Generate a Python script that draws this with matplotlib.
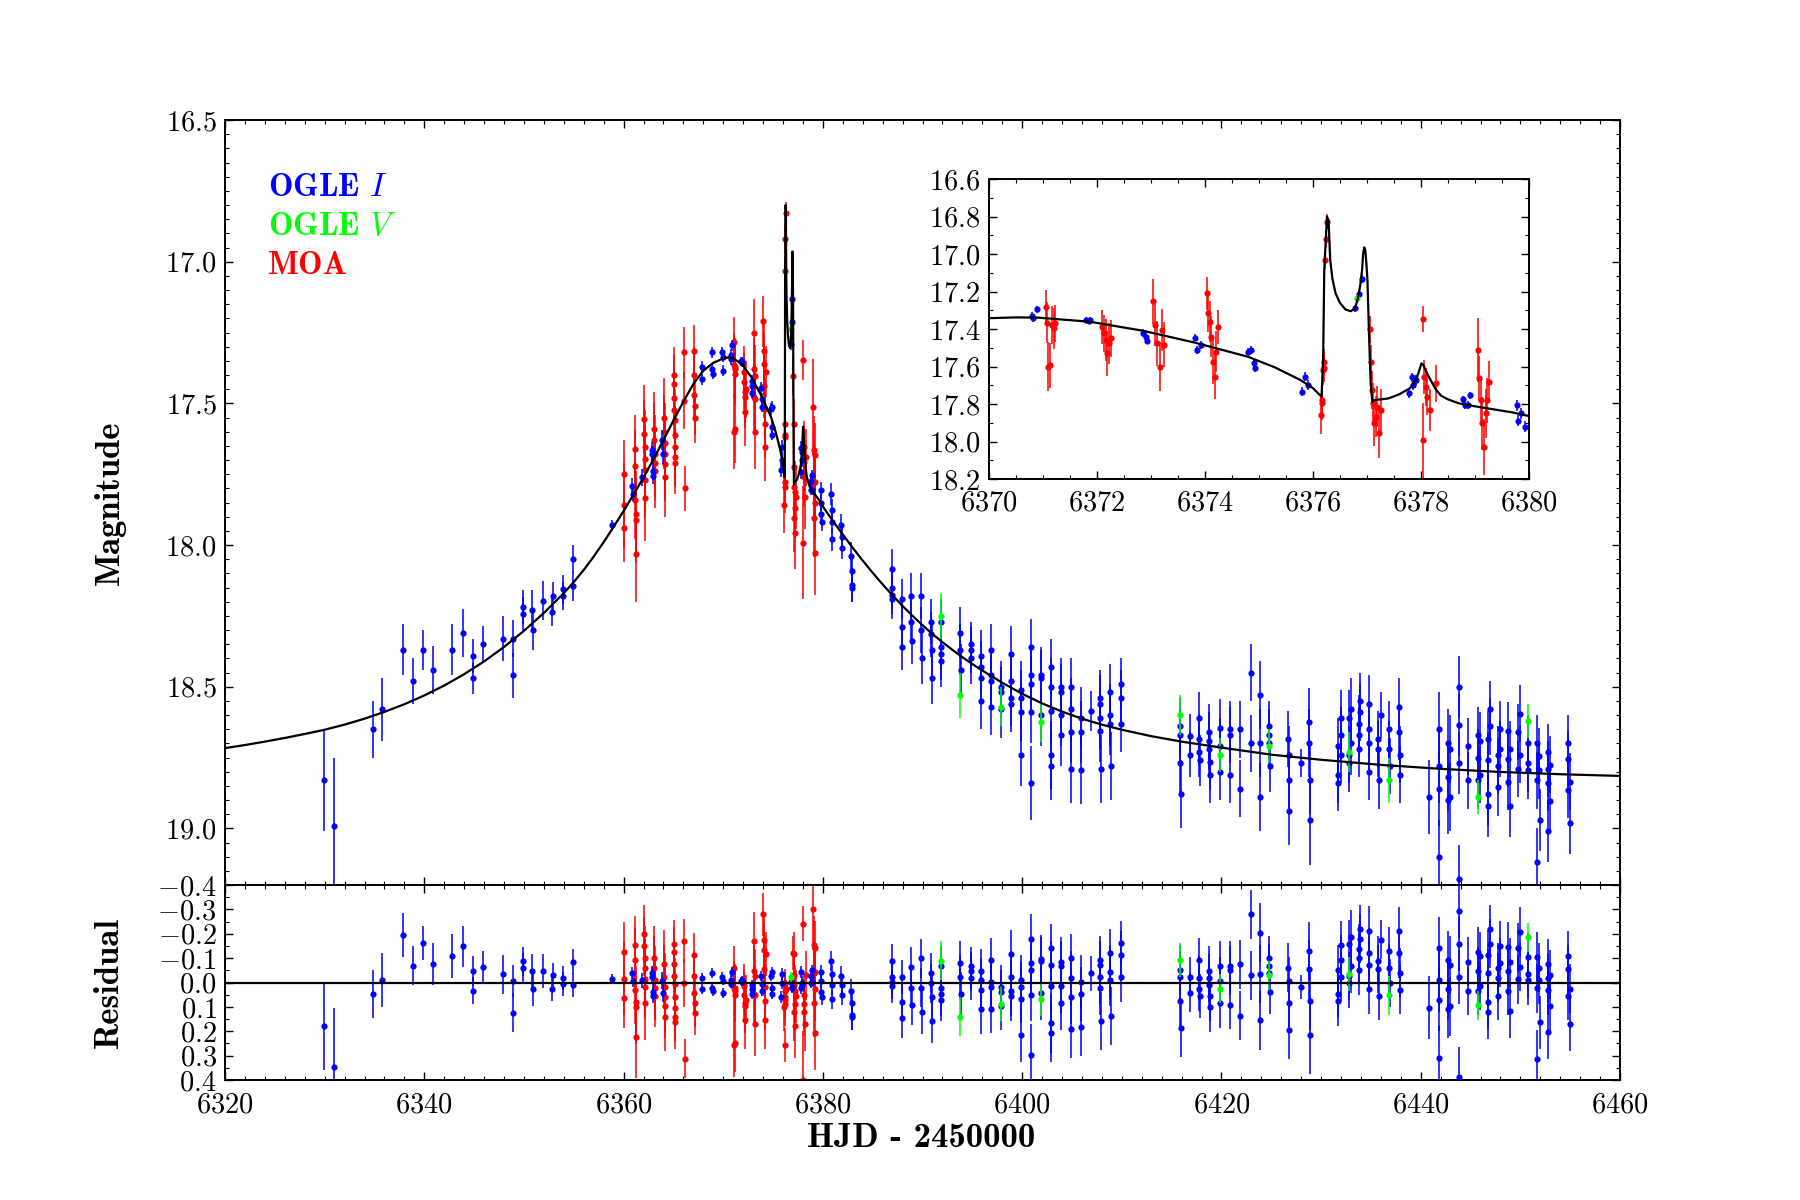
import numpy as np
import matplotlib
matplotlib.use('Agg')
import matplotlib.pyplot as plt
from matplotlib.ticker import MultipleLocator

# ---------------- data ----------------
ogle_i_t = [
    6329.90, 6330.90, 6334.86, 6335.80, 6337.90, 6338.85, 6339.85, 6340.86, 6342.83, 6343.87,
    6344.84, 6344.86, 6345.85, 6347.85, 6348.86, 6348.88, 6349.86, 6349.88, 6350.86, 6350.88,
    6351.87, 6352.85, 6352.87, 6353.88, 6353.90, 6354.88, 6354.90, 6358.84, 6360.88, 6360.90,
    6361.88, 6362.88, 6362.90, 6362.92, 6362.94, 6363.89, 6363.91, 6367.90, 6367.92, 6368.90,
    6368.92, 6368.94, 6369.91, 6369.93, 6369.95, 6370.80, 6370.82, 6370.89, 6371.80, 6371.85,
    6371.88, 6372.85, 6372.90, 6372.93, 6373.81, 6373.86, 6373.92, 6374.80, 6374.85, 6374.90,
    6374.93, 6375.79, 6375.86, 6375.90, 6376.77, 6376.86, 6376.90, 6377.77, 6377.83, 6377.86,
    6377.90, 6378.77, 6378.82, 6378.87, 6378.91, 6379.77, 6379.80, 6379.86, 6379.93, 6380.86,
    6380.88, 6380.90, 6380.92, 6381.87, 6381.89, 6381.91, 6382.87, 6382.89, 6382.91, 6382.93,
    6386.89, 6386.91, 6386.93, 6386.95, 6387.90, 6387.92, 6387.94, 6388.87, 6388.89, 6388.91,
    6389.87, 6389.89, 6389.91, 6390.88, 6390.90, 6390.92, 6390.94, 6391.84, 6391.86, 6391.88,
    6391.90, 6393.78, 6393.80, 6393.82, 6394.82, 6394.84, 6394.86, 6395.83, 6395.85, 6395.87,
    6395.89, 6396.83, 6396.85, 6396.87, 6396.89, 6397.84, 6397.86, 6397.88, 6398.84, 6398.86,
    6398.88, 6398.90, 6399.84, 6399.86, 6399.88, 6399.90, 6400.85, 6400.87, 6400.89, 6400.91,
    6400.93, 6401.85, 6401.87, 6401.89, 6402.86, 6402.88, 6402.90, 6402.92, 6402.94, 6403.86,
    6403.88, 6403.90, 6403.92, 6404.87, 6404.89, 6404.91, 6404.93, 6405.87, 6405.89, 6405.91,
    6406.87, 6407.80, 6407.82, 6407.84, 6407.86, 6407.88, 6408.81, 6408.83, 6408.85, 6408.87,
    6409.89, 6409.91, 6409.93, 6415.84, 6415.86, 6415.88, 6415.90, 6416.85, 6416.87, 6417.75,
    6417.77, 6417.79, 6417.81, 6418.76, 6418.78, 6418.80, 6418.82, 6418.84, 6419.85, 6419.87,
    6419.89, 6420.85, 6420.87, 6420.89, 6421.87, 6421.89, 6422.94, 6422.96, 6423.88, 6423.90,
    6423.92, 6424.78, 6424.80, 6424.82, 6424.84, 6426.73, 6426.75, 6426.77, 6426.79, 6427.96,
    6428.80, 6428.82, 6428.84, 6428.86, 6431.70, 6431.72, 6431.74, 6431.98, 6432.00, 6432.02,
    6432.80, 6432.82, 6432.84, 6433.00, 6433.02, 6433.76, 6433.78, 6433.80, 6433.92, 6433.94,
    6434.76, 6434.78, 6434.80, 6434.82, 6435.73, 6435.75, 6435.77, 6436.00, 6436.83, 6436.85,
    6436.87, 6437.84, 6437.86, 6437.88, 6437.90, 6440.85, 6441.79, 6441.81, 6441.83, 6441.85,
    6442.70, 6442.72, 6442.74, 6442.96, 6442.98, 6443.80, 6443.82, 6443.84, 6443.86, 6444.77,
    6444.79, 6445.71, 6445.73, 6445.75, 6445.97, 6445.99, 6446.71, 6446.73, 6446.75, 6446.77,
    6446.97, 6446.99, 6447.71, 6447.73, 6447.75, 6447.97, 6447.99, 6448.72, 6448.74, 6448.76,
    6448.97, 6448.99, 6449.73, 6449.75, 6449.96, 6449.98, 6450.73, 6450.75, 6450.77, 6451.66,
    6451.68, 6451.70, 6451.90, 6451.92, 6451.94, 6452.74, 6452.76, 6452.78, 6452.80, 6452.97,
    6452.99, 6454.75, 6454.77, 6454.79, 6454.98, 6455.00]
ogle_i_mag = [
    18.83, 18.99, 18.65, 18.58, 18.37, 18.48, 18.37, 18.44, 18.37, 18.31,
    18.39, 18.47, 18.35, 18.33, 18.33, 18.46, 18.22, 18.245, 18.23, 18.30,
    18.196, 18.236, 18.18, 18.157, 18.18, 18.05, 18.146, 17.93, 17.79, 17.82,
    17.76, 17.666, 17.68, 17.74, 17.755, 17.63, 17.68, 17.37, 17.415, 17.32,
    17.38, 17.395, 17.32, 17.335, 17.385, 17.329, 17.343, 17.295, 17.352, 17.358,
    17.350, 17.42, 17.44, 17.462, 17.446, 17.512, 17.485, 17.52, 17.512, 17.583,
    17.61, 17.734, 17.654, 17.699, 17.29, 17.213, 17.133, 17.743, 17.658, 17.699,
    17.672, 17.775, 17.805, 17.805, 17.754, 17.807, 17.889, 17.85, 17.92, 17.82,
    17.876, 17.92, 17.98, 17.93, 17.97, 18.01, 18.04, 18.09, 18.14, 18.15,
    18.085, 18.15, 18.175, 18.19, 18.19, 18.29, 18.36, 18.18, 18.27, 18.34,
    18.18, 18.30, 18.40, 18.27, 18.315, 18.37, 18.47, 18.27, 18.36, 18.385,
    18.41, 18.31, 18.37, 18.44, 18.35, 18.37, 18.40, 18.39, 18.43, 18.47,
    18.55, 18.37, 18.46, 18.48, 18.57, 18.50, 18.52, 18.58, 18.385, 18.48,
    18.54, 18.56, 18.51, 18.54, 18.59, 18.74, 18.36, 18.46, 18.49, 18.59,
    18.84, 18.46, 18.47, 18.60, 18.43, 18.50, 18.585, 18.74, 18.78, 18.50,
    18.52, 18.60, 18.67, 18.50, 18.58, 18.66, 18.79, 18.61, 18.66, 18.795,
    18.585, 18.54, 18.56, 18.61, 18.655, 18.79, 18.52, 18.60, 18.63, 18.78,
    18.49, 18.54, 18.63, 18.64, 18.67, 18.77, 18.88, 18.675, 18.74, 18.61,
    18.685, 18.73, 18.76, 18.66, 18.69, 18.72, 18.765, 18.81, 18.645, 18.71,
    18.80, 18.65, 18.67, 18.81, 18.65, 18.86, 18.45, 18.70, 18.53, 18.70,
    18.89, 18.64, 18.67, 18.70, 18.78, 18.685, 18.74, 18.83, 18.94, 18.77,
    18.625, 18.70, 18.83, 18.97, 18.71, 18.81, 18.84, 18.61, 18.67, 18.74,
    18.61, 18.74, 18.77, 18.58, 18.70, 18.63, 18.67, 18.72, 18.55, 18.59,
    18.56, 18.65, 18.70, 18.80, 18.685, 18.72, 18.83, 18.60, 18.65, 18.72,
    18.78, 18.57, 18.66, 18.74, 18.81, 18.89, 18.65, 18.78, 18.86, 19.10,
    18.70, 18.82, 18.90, 18.72, 18.89, 18.50, 18.635, 18.77, 19.18, 18.71,
    18.83, 18.67, 18.75, 18.83, 18.69, 18.81, 18.685, 18.76, 18.88, 18.92,
    18.58, 18.64, 18.74, 18.78, 18.855, 18.65, 18.72, 18.655, 18.755, 18.835,
    18.72, 18.92, 18.66, 18.79, 18.595, 18.74, 18.70, 18.77, 18.795, 18.70,
    18.83, 19.12, 18.745, 18.795, 18.97, 18.73, 18.79, 18.84, 19.01, 18.775,
    18.905, 18.70, 18.755, 18.865, 18.835, 18.98]
ogle_i_err = [
    0.18, 0.24, 0.10, 0.11, 0.09, 0.08, 0.07, 0.085, 0.09, 0.085,
    0.06, 0.055, 0.065, 0.08, 0.065, 0.08, 0.06, 0.06, 0.07, 0.07,
    0.07, 0.05, 0.05, 0.05, 0.05, 0.05, 0.05, 0.02, 0.025, 0.025,
    0.03, 0.03, 0.03, 0.03, 0.03, 0.035, 0.035, 0.02, 0.02, 0.02,
    0.02, 0.02, 0.02, 0.02, 0.02, 0.02, 0.02, 0.02, 0.015, 0.015,
    0.015, 0.02, 0.02, 0.02, 0.02, 0.02, 0.02, 0.02, 0.02, 0.02,
    0.02, 0.025, 0.025, 0.025, 0.02, 0.02, 0.02, 0.025, 0.025, 0.025,
    0.025, 0.02, 0.02, 0.02, 0.02, 0.03, 0.03, 0.03, 0.03, 0.04,
    0.04, 0.04, 0.04, 0.04, 0.04, 0.04, 0.05, 0.05, 0.06, 0.05,
    0.07, 0.07, 0.07, 0.07, 0.07, 0.08, 0.08, 0.08, 0.08, 0.08,
    0.08, 0.08, 0.09, 0.08, 0.08, 0.09, 0.09, 0.08, 0.08, 0.09,
    0.09, 0.09, 0.09, 0.09, 0.08, 0.08, 0.09, 0.09, 0.09, 0.09,
    0.10, 0.09, 0.09, 0.09, 0.10, 0.09, 0.09, 0.10, 0.10, 0.10,
    0.10, 0.10, 0.10, 0.10, 0.10, 0.11, 0.10, 0.10, 0.10, 0.11,
    0.13, 0.10, 0.10, 0.11, 0.10, 0.10, 0.11, 0.12, 0.12, 0.10,
    0.10, 0.11, 0.11, 0.10, 0.11, 0.11, 0.12, 0.11, 0.11, 0.12,
    0.07, 0.10, 0.10, 0.11, 0.11, 0.12, 0.10, 0.11, 0.11, 0.12,
    0.09, 0.10, 0.10, 0.10, 0.10, 0.11, 0.12, 0.08, 0.08, 0.09,
    0.09, 0.09, 0.09, 0.10, 0.10, 0.10, 0.10, 0.10, 0.10, 0.10,
    0.10, 0.10, 0.10, 0.10, 0.10, 0.10, 0.10, 0.10, 0.12, 0.12,
    0.12, 0.09, 0.09, 0.09, 0.09, 0.10, 0.10, 0.10, 0.12, 0.05,
    0.12, 0.12, 0.12, 0.16, 0.10, 0.10, 0.10, 0.10, 0.10, 0.10,
    0.10, 0.10, 0.10, 0.11, 0.11, 0.10, 0.10, 0.10, 0.10, 0.10,
    0.10, 0.10, 0.10, 0.10, 0.10, 0.10, 0.10, 0.08, 0.10, 0.10,
    0.10, 0.10, 0.10, 0.10, 0.10, 0.13, 0.13, 0.13, 0.13, 0.13,
    0.12, 0.12, 0.12, 0.12, 0.12, 0.11, 0.11, 0.11, 0.12, 0.10,
    0.10, 0.10, 0.10, 0.10, 0.10, 0.10, 0.10, 0.10, 0.11, 0.11,
    0.10, 0.10, 0.10, 0.10, 0.10, 0.10, 0.10, 0.10, 0.10, 0.10,
    0.10, 0.11, 0.10, 0.10, 0.10, 0.10, 0.10, 0.10, 0.10, 0.10,
    0.10, 0.12, 0.10, 0.10, 0.11, 0.10, 0.10, 0.10, 0.11, 0.10,
    0.10, 0.10, 0.10, 0.10, 0.10, 0.11]

ogle_v_t = [6376.81, 6391.84, 6393.78, 6397.84, 6401.85, 6415.84,
            6419.86, 6424.78, 6432.80, 6436.83, 6445.71, 6450.73]
ogle_v_mag = [17.236, 18.25, 18.53, 18.57, 18.625, 18.60,
              18.74, 18.71, 18.73, 18.83, 18.89, 18.62]
ogle_v_err = [0.02, 0.08, 0.08, 0.07, 0.07, 0.07,
              0.06, 0.06, 0.07, 0.08, 0.06, 0.06]

moa_t = [
    6360.05, 6360.07, 6360.09, 6361.15, 6361.17, 6361.19, 6361.21, 6361.23, 6361.25, 6362.08,
    6362.10, 6362.12, 6362.14, 6362.16, 6362.18, 6362.20, 6363.08, 6363.10, 6363.12, 6363.14,
    6363.16, 6364.08, 6364.10, 6364.12, 6364.14, 6364.16, 6364.18, 6365.05, 6365.07, 6365.09,
    6365.11, 6365.13, 6365.15, 6365.17, 6365.19, 6365.21, 6366.08, 6366.10, 6366.12, 6367.06,
    6367.08, 6367.10, 6367.12, 6367.14, 6371.06, 6371.08, 6371.10, 6371.14, 6371.17, 6371.20,
    6371.22, 6372.10, 6372.13, 6372.16, 6372.19, 6372.22, 6372.26, 6373.04, 6373.08, 6373.12,
    6373.16, 6373.20, 6373.24, 6374.03, 6374.06, 6374.09, 6374.12, 6374.15, 6374.18, 6374.21,
    6374.25, 6376.15, 6376.16, 6376.17, 6376.19, 6376.20, 6376.21, 6376.23, 6376.24, 6376.26,
    6377.05, 6377.07, 6377.09, 6377.11, 6377.13, 6377.16, 6377.19, 6377.22, 6377.26, 6378.03,
    6378.06, 6378.09, 6378.12, 6378.16, 6378.04, 6378.27, 6379.05, 6379.08, 6379.11, 6379.14,
    6379.17, 6379.20, 6379.23, 6379.26]
moa_mag = [
    17.75, 17.86, 17.94, 17.66, 17.72, 17.84, 17.89, 17.91, 18.03, 17.557,
    17.607, 17.654, 17.695, 17.736, 17.77, 17.835, 17.59, 17.63, 17.68, 17.71,
    17.74, 17.55, 17.60, 17.64, 17.68, 17.715, 17.76, 17.40, 17.43, 17.48,
    17.525, 17.56, 17.61, 17.654, 17.69, 17.71, 17.32, 17.49, 17.80, 17.315,
    17.40, 17.47, 17.51, 17.55, 17.284, 17.366, 17.60, 17.592, 17.379, 17.396,
    17.37, 17.388, 17.423, 17.459, 17.53, 17.476, 17.45, 17.251, 17.379, 17.476,
    17.60, 17.405, 17.485, 17.21, 17.316, 17.36, 17.44, 17.574, 17.654, 17.52,
    17.388, 17.859, 17.796, 17.779, 17.619, 17.574, 17.61, 17.032, 16.92, 16.828,
    17.402, 17.574, 17.725, 17.796, 17.903, 17.868, 17.814, 17.956, 17.832, 17.347,
    17.654, 17.708, 17.761, 17.832, 17.992, 17.69, 17.512, 17.663, 17.779, 17.903,
    18.028, 17.85, 17.779, 17.681]
moa_err = [
    0.12, 0.15, 0.12, 0.12, 0.13, 0.14, 0.15, 0.15, 0.17, 0.12,
    0.12, 0.13, 0.12, 0.14, 0.13, 0.15, 0.13, 0.13, 0.14, 0.13,
    0.13, 0.14, 0.13, 0.14, 0.14, 0.13, 0.14, 0.10, 0.10, 0.10,
    0.10, 0.11, 0.10, 0.11, 0.10, 0.11, 0.09, 0.10, 0.08, 0.09,
    0.10, 0.09, 0.10, 0.09, 0.09, 0.11, 0.13, 0.12, 0.10, 0.11,
    0.10, 0.09, 0.10, 0.11, 0.12, 0.11, 0.10, 0.12, 0.11, 0.12,
    0.13, 0.11, 0.12, 0.09, 0.10, 0.11, 0.11, 0.12, 0.12, 0.11,
    0.09, 0.10, 0.09, 0.09, 0.08, 0.07, 0.07, 0.05, 0.05, 0.04,
    0.07, 0.09, 0.10, 0.11, 0.12, 0.11, 0.11, 0.13, 0.11, 0.07,
    0.09, 0.10, 0.10, 0.11, 0.20, 0.10, 0.17, 0.12, 0.13, 0.14,
    0.15, 0.13, 0.12, 0.11]

model_t = [6320.0, 6322.0, 6324.0, 6326.0, 6328.0, 6330.0, 6332.0, 6334.0, 6336.0, 6338.0,
           6340.0, 6342.0, 6344.0, 6346.0, 6348.0, 6350.0, 6352.0, 6354.0, 6355.0, 6356.0,
           6357.0, 6358.0, 6359.0, 6360.0, 6361.0, 6362.0, 6363.0, 6364.0, 6365.0, 6366.0,
           6367.0, 6368.0, 6369.0, 6370.0, 6370.5, 6370.9, 6371.87, 6372.85, 6373.82, 6374.80,
           6375.3, 6375.77, 6376.0, 6376.16, 6376.19, 6376.21, 6376.26, 6376.29, 6376.32, 6376.36,
           6376.42, 6376.5, 6376.6, 6376.7, 6376.78, 6376.84, 6376.88, 6376.91, 6376.93, 6376.95,
           6376.97, 6376.99, 6377.01, 6377.04, 6377.07, 6377.10, 6377.14, 6377.4, 6377.6, 6377.8,
           6377.92, 6377.97, 6378.01, 6378.05, 6378.12, 6378.18, 6378.27, 6378.37, 6378.5, 6378.7,
           6379.0, 6379.34, 6379.7, 6380.0, 6381.0, 6382.0, 6383.0, 6384.0, 6385.0, 6386.0,
           6387.0, 6388.0, 6389.0, 6390.0, 6391.0, 6392.0, 6393.0, 6394.0, 6395.0, 6396.0,
           6398.0, 6400.0, 6402.0, 6404.0, 6406.0, 6408.0, 6410.0, 6413.0, 6416.0, 6420.0,
           6425.0, 6430.0, 6436.0, 6442.0, 6448.0, 6454.0, 6460.0]
model_mag = [18.717, 18.706, 18.694, 18.681, 18.667, 18.652, 18.634, 18.613, 18.589, 18.562,
             18.531, 18.496, 18.456, 18.411, 18.360, 18.303, 18.240, 18.170, 18.131, 18.088,
             18.041, 17.990, 17.936, 17.880, 17.822, 17.762, 17.697, 17.630, 17.561, 17.494,
             17.432, 17.385, 17.357, 17.342, 17.338, 17.339, 17.361, 17.409, 17.473, 17.548,
             17.605, 17.672, 17.715, 17.761, 17.548, 17.085, 16.800, 16.820, 17.030, 17.130,
             17.210, 17.260, 17.295, 17.305, 17.290, 17.228, 17.160, 17.085, 17.000, 16.964,
             16.979, 17.050, 17.139, 17.440, 17.690, 17.787, 17.779, 17.770, 17.748, 17.715,
             17.663, 17.620, 17.583, 17.595, 17.640, 17.672, 17.720, 17.755, 17.775, 17.796,
             17.812, 17.828, 17.845, 17.864, 17.915, 17.963, 18.010, 18.055, 18.098, 18.139,
             18.178, 18.215, 18.250, 18.283, 18.314, 18.343, 18.370, 18.396, 18.420, 18.443,
             18.486, 18.525, 18.559, 18.588, 18.613, 18.634, 18.652, 18.675, 18.694, 18.715,
             18.740, 18.758, 18.776, 18.790, 18.801, 18.809, 18.815]

# ---------------- style ----------------
plt.rcParams.update({
    'font.family': 'serif',
    'font.serif': ['cmr10'],
    'mathtext.fontset': 'cm',
    'axes.formatter.use_mathtext': True,
    'axes.unicode_minus': True,
    'xtick.direction': 'in', 'ytick.direction': 'in',
    'xtick.top': True, 'ytick.right': True,
    'xtick.major.size': 6, 'ytick.major.size': 6,
    'xtick.minor.size': 3, 'ytick.minor.size': 3,
    'xtick.major.width': 1.0, 'ytick.major.width': 1.0,
    'xtick.minor.width': 0.8, 'ytick.minor.width': 0.8,
    'xtick.major.pad': 9, 'ytick.major.pad': 6,
    'axes.linewidth': 1.4,
    'xtick.labelsize': 20.5, 'ytick.labelsize': 20.5,
})

BLUE = '#0000ff'
GREEN = '#00ff00'
RED = '#ff0000'

mt = np.array(model_t)
mm = np.array(model_mag)

datasets = [
    (np.array(moa_t), np.array(moa_mag), np.array(moa_err), RED, 2),
    (np.array(ogle_i_t), np.array(ogle_i_mag), np.array(ogle_i_err), BLUE, 3),
    (np.array(ogle_v_t), np.array(ogle_v_mag), np.array(ogle_v_err), GREEN, 4),
]


def draw(axis, x, y, e, color, z, ms=4.5):
    ec = matplotlib.colors.to_rgba(color, 0.8)
    axis.errorbar(x, y, yerr=e, fmt='o', color=color, ecolor=ec, ms=ms, mew=0,
                  elinewidth=1.4, capsize=2.3, capthick=1.0, zorder=z)


fig = plt.figure(figsize=(18, 12), dpi=100)
ax = fig.add_axes([0.125, 0.2625, 0.775, 0.6375])
axr = fig.add_axes([0.125, 0.1, 0.775, 0.1625], sharex=ax)
axi = fig.add_axes([0.5494, 0.6008, 0.3, 0.25])

for (x, y, e, c, z) in datasets:
    draw(ax, x, y, e, c, z)
    sel = (x > 6369.5) & (x < 6380.5)
    draw(axi, x[sel], y[sel], e[sel], c, z)
    res = y - np.interp(x, mt, mm)
    draw(axr, x, res, e, c, z)

ax.plot(mt, mm, color='k', lw=1.6, zorder=10)
axi.plot(mt, mm, color='k', lw=1.6, zorder=10)
axr.axhline(0.0, color='k', lw=1.6, zorder=10)

# main axes
ax.set_xlim(6320, 6460)
ax.set_ylim(19.2, 16.5)
ax.xaxis.set_major_locator(MultipleLocator(20))
ax.xaxis.set_minor_locator(MultipleLocator(2))
ax.set_yticks([16.5, 17.0, 17.5, 18.0, 18.5, 19.0])
ax.yaxis.set_minor_locator(MultipleLocator(0.05))
ax.tick_params(labelbottom=False)
ax.ticklabel_format(useOffset=False)

# residual axes
axr.set_ylim(0.4, -0.4)
axr.set_yticks([-0.4, -0.3, -0.2, -0.1, 0.0, 0.1, 0.2, 0.3, 0.4])
axr.yaxis.set_minor_locator(MultipleLocator(0.05))
axr.ticklabel_format(useOffset=False)

# inset
axi.set_xlim(6370, 6380)
axi.set_ylim(18.2, 16.6)
axi.set_xticks([6370, 6372, 6374, 6376, 6378, 6380])
axi.xaxis.set_minor_locator(MultipleLocator(0.5))
axi.set_yticks([16.6, 16.8, 17.0, 17.2, 17.4, 17.6, 17.8, 18.0, 18.2])
axi.yaxis.set_minor_locator(MultipleLocator(0.1))
axi.ticklabel_format(useOffset=False)
axi.tick_params(axis='x', pad=8)

for a in (ax, axr, axi):
    for s in a.spines.values():
        s.set_linewidth(1.4)

# labels
fig.text(0.061, 0.581, 'Magnitude', rotation=90, ha='center', va='center',
         family='cmb10', fontsize=25)
fig.text(0.061, 0.181, 'Residual', rotation=90, ha='center', va='center',
         family='cmb10', fontsize=25)
fig.text(0.512, 0.051, 'HJD - 2450000', ha='center', va='center',
         family='cmb10', fontsize=25)

ax.text(0.031, 0.90, r'OGLE $I$', color=BLUE, transform=ax.transAxes,
        family='cmb10', fontsize=23.5, va='baseline', ha='left')
ax.text(0.031, 0.85, r'OGLE $V$', color=GREEN, transform=ax.transAxes,
        family='cmb10', fontsize=23.5, va='baseline', ha='left')
ax.text(0.031, 0.799, 'MOA', color=RED, transform=ax.transAxes,
        family='cmb10', fontsize=23.5, va='baseline', ha='left')

fig.savefig('out.png', dpi=100)
